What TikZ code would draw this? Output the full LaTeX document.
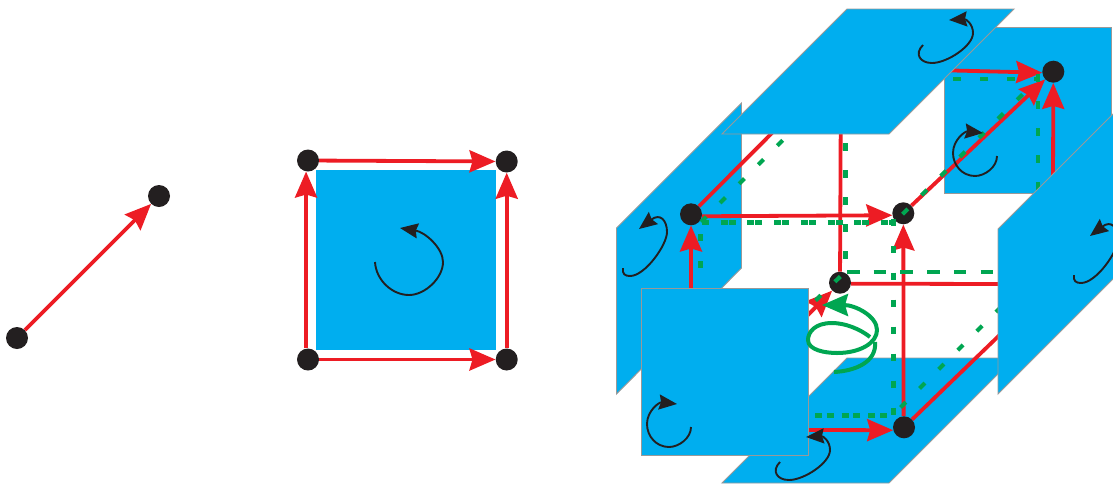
\documentclass[tikz,border=0pt]{standalone}
\usepackage{tikz}
\usetikzlibrary{arrows.meta,calc}
\definecolor{facecol}{HTML}{00AEEF}
\definecolor{vecred}{HTML}{ED1C24}
\definecolor{cyclegreen}{HTML}{00A651}
\definecolor{dotblack}{HTML}{231F20}
\tikzset{vec/.style={-{Stealth[length=26pt,width=22pt,inset=3pt]},line width=3.8pt,vecred},
         edge/.style={line width=3.8pt,vecred},
         dot/.style={circle,fill=dotblack,inner sep=0pt,minimum size=22pt},
         face/.style={fill=facecol,draw=black!40,line width=.9pt},
         curl/.style={-{Stealth[length=18pt,width=15pt,inset=2pt]},line width=1.9pt,dotblack},
         dual/.style={line width=4.2pt,cyclegreen,dash pattern=on 7.5pt off 19.5pt},
         dualwide/.style={line width=4.2pt,cyclegreen,dash pattern=on 12.5pt off 14.2pt},
         dualpair/.style={line width=4.2pt,cyclegreen,dash pattern=on 7pt off 1pt on 7pt off 11.7pt,dash phase=8pt},
         dualsplit/.style={line width=4.2pt,cyclegreen,dash pattern=on 7pt off 4.7pt on 7pt off 8pt},
         cycle/.style={line width=4pt,cyclegreen}}

\begin{document}
\begin{tikzpicture}[x=1pt,y=-1pt]
  \path[clip,use as bounding box] (0,0) rectangle (1113,483);
  % edge
  \node[dot] (p) at (17,338) {};
  \node[dot] (q) at (159,196) {};
  \draw[vec] (p)--(q);
  % square
  \fill[facecol] (316,170) rectangle (496,350);
  \node[dot] (sw) at (308,359.5) {};
  \node[dot] (se) at (506.7,359.5) {};
  \node[dot] (nw) at (308,160.5) {};
  \node[dot] (ne) at (506.7,161.5) {};
  \draw[vec] (sw)--(se);
  \draw[vec] (nw)--(ne);
  \draw[vec] (sw.100)--(nw.260);
  \draw[vec] (se)--(ne);
  \draw[curl] (375,262) .. controls (376,280) and (392,295) .. (409,295)
    .. controls (425,295) and (443,278) .. (443,262)
    .. controls (443,248) and (425,232) .. (400,228);
  % cube: faces at the back
  \draw[face] (616.5,228)--(741.5,103)--(741.5,268)--(616.5,394)--cycle;
  \draw[face] (944,27) rectangle (1111,193);
  \draw[face] (847,358)--(1014,358)--(889,483)--(722,483)--cycle;
  % cube: vertices
  \node[dot] (a) at (691,214.3) {};
  \node[dot] (b) at (903.3,213.3) {};
  \node[dot] (c) at (1053.3,71.7) {};
  \node[dot] (d) at (840,282.7) {};
  \node[dot] (e) at (904,427.3) {};
  \coordinate (a0) at (691,295);
  \coordinate (a1) at (780,125);
  \coordinate (c0) at (945,70.3);
  \coordinate (c1) at (1053,190);
  \coordinate (d0) at (795,328);
  \coordinate (d1) at (840.7,125);
  \coordinate (d2) at (1005,284);
  \coordinate (e0) at (800,430);
  \coordinate (e1) at (1010,325);
  \draw[edge] (a)--(a1);
  \draw[edge] (d)--(d1);
  \draw[edge] (d.-5)--(d2);
  \draw[edge] (e)--(e1);
  \draw[vec] (a0)--(a);
  \draw[vec] (a.-10)--(b.190);
  \draw[vec] (b)--(c);
  \draw[vec] (c0)--(c.185);
  \draw[vec] (c1)--(c);
  \draw[vec] (d0)--(d);
  \draw[vec] (e0)--(e.195);
  \draw[vec] (e.92)--(b);
  % dual cube
  \draw[dualpair] (702,222.5)--(895,222.5);
  \draw[dual] (700.5,295)--(700.5,222.5);
  \draw[dual] (701,222)--(790,133);
  \draw[dual] (845.5,143)--(845.5,272);
  \draw[dualwide] (847,272)--(1005,272);
  \draw[dual] (893.5,218.5)--(893.5,416);
  \draw[dualsplit] (815,415.5)--(889,415.5);
  \draw[dual] (900.5,407.5)--(1005,303);
  \draw[dual] (815.5,300.5)--(845,272);
  \draw[dual] (902.5,214.2)--(1038,79);
  \draw[dual] (953,79)--(1040,79);
  \draw[dual] (1038,74)--(1038,195);
  \draw[curl] (997,156) .. controls (997,167) and (985,176) .. (975,176)
    .. controls (962,176) and (953,165) .. (953,153)
    .. controls (953,140) and (965,131) .. (983,133);
  % cube: faces in front
  \draw[face] (722,134)--(847,9)--(1014,9)--(889,134)--cycle;
  \draw[face] (998,229)--(1123,104)--(1123,269)--(998,394)--cycle;
  \draw[face] (641,288) rectangle (808,455);
  \draw[curl] (691,427) .. controls (691,438) and (679,447) .. (669,447)
    .. controls (656,447) and (647,436) .. (647,424)
    .. controls (647,411) and (659,402) .. (677,404);
  \foreach \dx/\dy in {0/0,-143/417}{
    \draw[curl,shift={(\dx,\dy)}] (923,45) .. controls (914,54) and (920,63) .. (932,63)
      .. controls (947,63) and (973,46) .. (973,33)
      .. controls (973,24) and (966,19) .. (949,20);
  }
  \foreach \dx/\dy in {0/0,451/7}{
    \draw[curl,shift={(\dx,\dy)}] (623,268) .. controls (622,274) and (625,276) .. (630,276)
      .. controls (645,276) and (667,245) .. (667,232)
      .. controls (667,220) and (660,213) .. (639,229);
  }
  % cycle
  \draw[cycle] (834,372) .. controls (855,371) and (877,362) .. (875,342);
  \draw[cycle,-{Stealth[length=26pt,width=22pt,inset=3pt]}]
    (870,337) .. controls (860,329) and (845,323) .. (832,323)
    .. controls (815,323) and (808,332) .. (808,340)
    .. controls (808,350) and (825,353) .. (837,353)
    .. controls (860,353) and (877,343) .. (877,330)
    .. controls (877,316) and (855,305) .. (822,305);
\end{tikzpicture}
\end{document}
